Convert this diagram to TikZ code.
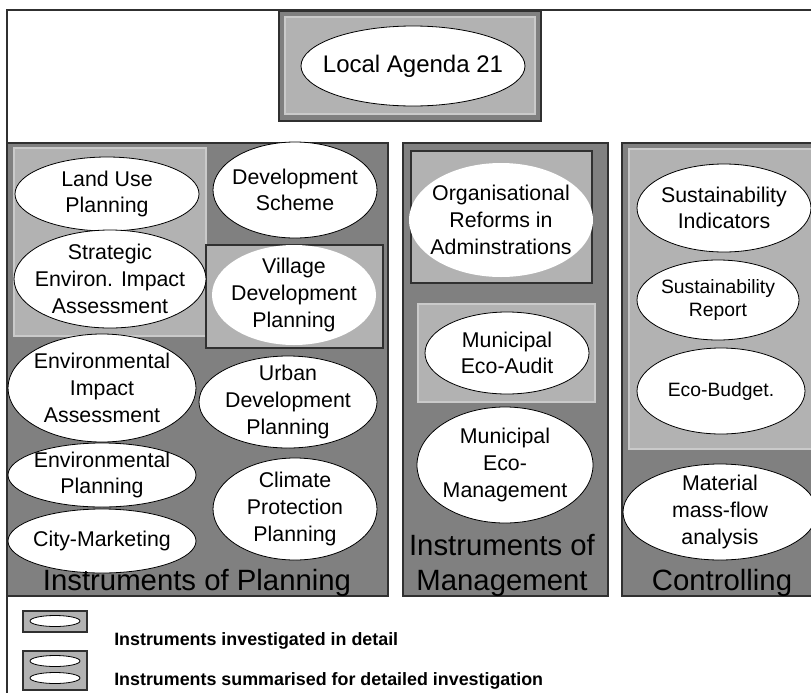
\documentclass[tikz,border=0pt]{standalone}
\usepackage{fontspec}
\setmainfont{Liberation Sans}
\usetikzlibrary{shapes}
\definecolor{paneldark}{HTML}{808080}
\definecolor{grouplight}{HTML}{B2B2B2}
\definecolor{groupedge}{HTML}{CACACA}
\definecolor{frameline}{HTML}{303030}
\tikzset{
    x=0.75pt,
    y=-0.75pt,
    radii/.style 2 args = {
        minimum width={#1*1.5pt},
        minimum height={#2*1.5pt}
    },
    panel/.style = {
        draw=frameline,
        fill=paneldark,
        line width=1pt
    },
    group/.style = {
        draw=groupedge,
        fill=grouplight,
        line width=0.8pt
    },
    framedgroup/.style = {
        draw=frameline,
        fill=grouplight,
        line width=0.8pt
    },
    instrument/.style = {
        draw,
        shape=ellipse,
        fill=white,
        inner xsep=-14pt,
        inner ysep=-6pt,
        align=center,
        line width=0.6pt,
        font=\fontsize{16}{20}\selectfont
    },
    smallinstrument/.style = {
        instrument,
        font=\fontsize{14.5}{17.5}\selectfont
    },
    heading/.style = {
        anchor=base,
        align=center,
        font=\fontsize{22}{26}\selectfont
    },
    legendtext/.style = {
        anchor=base west,
        inner sep=0pt,
        font=\bfseries\fontsize{13.4}{16}\selectfont
    },
}

\begin{document}
\begin{tikzpicture}

            \useasboundingbox (0,0) rectangle (811,693);
            \clip (0,0) rectangle (811,693);
            \fill[white] (0,0) rectangle (811,693);
            \draw[frameline, line width=1.5pt] (7,700) -- (7,10) -- (820,10);

            % top level
            \draw[panel] (279,11) rectangle (541,121);
            \draw[group] (285,17) rectangle (535,114);
            \node[instrument, radii={112}{40}, font=\fontsize{18}{21}\selectfont] (agenda) at (413,66) {Local Agenda 21};

            % planning
            \draw[panel] (7,143) rectangle (388,596);
            \draw[group] (14,148) rectangle (206,336);
            \draw[framedgroup] (206,245) rectangle (383,348);

            \node[instrument, radii={92}{37}] (land_use) at (107,194) {Land Use\\Planning};
            \node[instrument, radii={82}{48}] (dev_scheme) at (295,190) {Development\\Scheme};
            \node[instrument, radii={96}{49}] (seia) at (110,279) {Strategic\\Environ. Impact\\Assessment};
            \node[instrument, radii={82}{50}, draw=none] (village) at (294,295) {Village\\Development\\Planning};
            \node[instrument, radii={94}{54}] (eia) at (102,388) {Environmental\\Impact\\Assessment};
            \node[instrument, radii={89}{46}] (urban) at (288,402) {Urban\\Development\\Planning};
            \node[instrument, radii={94}{32}] (env_planning) at (102,475) {Environmental\\Planning};
            \node[instrument, radii={82}{51}] (climate) at (295,509) {Climate\\Protection\\Planning};
            \node[instrument, radii={94}{32}] (city_marketing) at (102,541) {City-Marketing};

            \node[heading] (title_planning) at (197,590) {Instruments of Planning};

            % management
            \draw[panel] (403,143) rectangle (608,596);
            \draw[framedgroup] (411,151) rectangle (592,283);
            \draw[group] (418,304) rectangle (595,402);

            \node[instrument, radii={92}{57}, draw=none] (org_reforms) at (501,220) {Organisational\\Reforms in\\Adminstrations};
            \node[instrument, radii={82}{41}] (eco_audit) at (507,353) {Municipal\\Eco-Audit};
            \node[instrument, radii={88}{58}] (eco_management) at (505,465) {Municipal\\Eco-\\Management};

            \node[heading] (title_management) at (502,590) {Instruments of\\Management};

            % controlling
            \draw[panel] (622,143) rectangle (830,596);
            \draw[group] (629,149) rectangle (830,449);

            \node[instrument, radii={87}{44}] (indicators) at (724,208) {Sustainability\\Indicators};
            \node[smallinstrument, radii={81}{40}] (report) at (718,300) {Sustainability\\Report};
            \node[smallinstrument, radii={84}{43}] (budget) at (721,391) {Eco-Budget.};
            \node[instrument, radii={97}{48}] (mass_flow) at (720,512) {Material\\mass-flow\\analysis};

            \node[heading] (title_controlling) at (722,590) {Controlling};

            % legend
            \draw[framedgroup] (23,611) rectangle (87,632);
            \node[instrument, radii={25}{5.5}] (legend_single) at (55,621) {};
            \draw[framedgroup] (23,651) rectangle (87,690);
            \node[instrument, radii={25}{5.5}] (legend_upper) at (55,661) {};
            \node[instrument, radii={25}{5.5}] (legend_lower) at (55,678) {};

            \node[legendtext] (legend_detail) at (114,645) {Instruments investigated in detail};
            \node[legendtext] (legend_summary) at (114,685) {Instruments summarised for detailed investigation};

        \end{tikzpicture}
\end{document}
